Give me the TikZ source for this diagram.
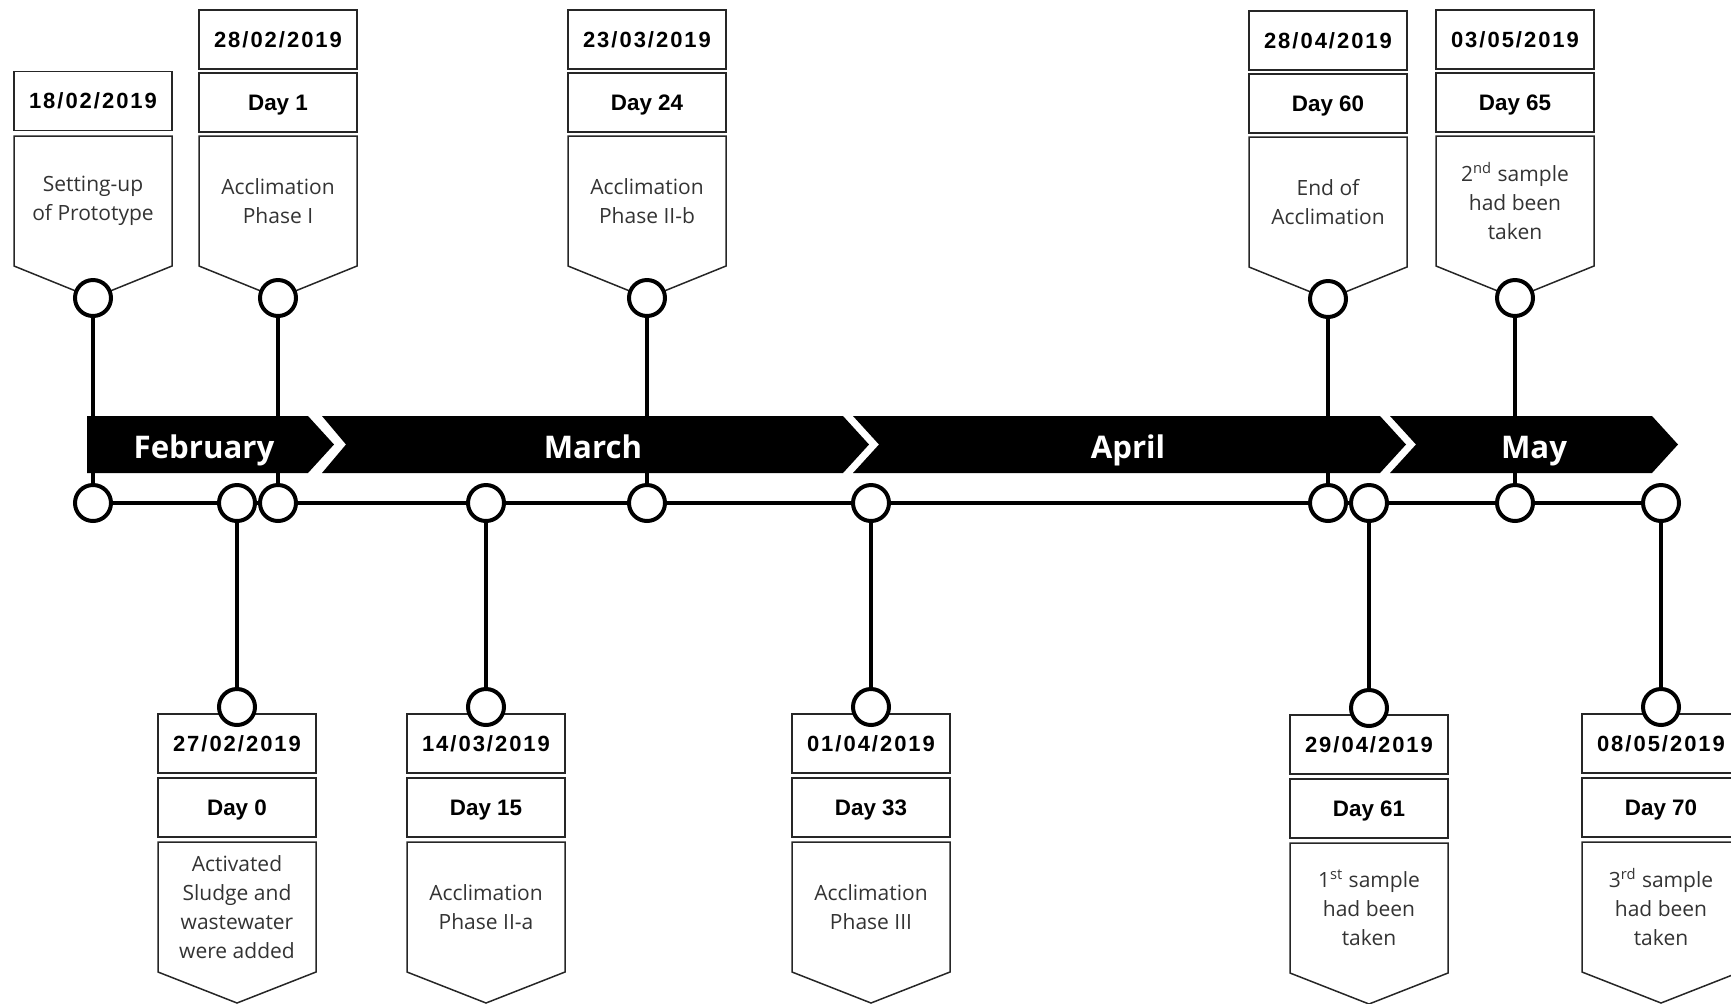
\documentclass[tikz,border=0pt]{standalone}
\usepackage{fontspec}
\setmainfont{Open Sans}
\newfontfamily\datefont[LetterSpace=9]{Liberation Sans}
\newfontfamily\dayfont{Liberation Sans}
\usepackage{tikz}

\begin{document}
\begin{tikzpicture}[x=0.5pt,y=-0.5pt,
  datebox/.style={draw=black!85,line width=0.75pt,minimum width=79pt,minimum height=29.5pt,inner sep=0pt,font=\datefont\bfseries\fontsize{11}{12}\selectfont},
  daybox/.style={draw=black!85,line width=0.75pt,minimum width=79pt,minimum height=29.5pt,inner sep=0pt,text height=8pt,text depth=0pt,font=\dayfont\bfseries\fontsize{11.2}{12}\selectfont},
  tag/.style={draw=black!85,line width=0.75pt},
  desc/.style={align=center,text=black!80,font=\fontsize{10.5}{14.5}\selectfont},
  dot/.style={circle,draw,line width=2pt,fill=white,minimum size=18pt,inner sep=0pt},
  stem/.style={line width=1.7pt},
  month/.style={text=white,anchor=base,font=\bfseries\fontsize{15.6}{18}\selectfont}]
  \useasboundingbox (0,0) rectangle (1731,1003);

  % events above the months
  \node[datebox] (date1) at (93,101) {18/02/2019};
  \draw[tag] (14,136) -- (172,136) -- (172,266) -- (93,298) -- (14,266) -- cycle;
  \node[desc] (text1) at (93,201) {Setting-up\\of Prototype};

  \node[datebox] (date2) at (278,39.5) {28/02/2019};
  \node[daybox] (day2) at (278,102.5) {Day 1};
  \draw[tag] (199,136) -- (357,136) -- (357,266) -- (278,298) -- (199,266) -- cycle;
  \node[desc] (text2) at (278,201) {Acclimation\\Phase I};

  \node[datebox] (date3) at (647,39.5) {23/03/2019};
  \node[daybox] (day3) at (647,102.5) {Day 24};
  \draw[tag] (568,136) -- (726,136) -- (726,266) -- (647,298) -- (568,266) -- cycle;
  \node[desc] (text3) at (647,201) {Acclimation\\Phase II-b};

  \node[datebox] (date4) at (1328,40.5) {28/04/2019};
  \node[daybox] (day4) at (1328,103.5) {Day 60};
  \draw[tag] (1249,137) -- (1407,137) -- (1407,267) -- (1328,299) -- (1249,267) -- cycle;
  \node[desc] (text4) at (1328,202) {End of\\Acclimation};

  \node[datebox] (date5) at (1515,39.5) {03/05/2019};
  \node[daybox] (day5) at (1515,102.5) {Day 65};
  \draw[tag] (1436,136) -- (1594,136) -- (1594,266) -- (1515,298) -- (1436,266) -- cycle;
  \node[desc] (text5) at (1515,201) {2\textsuperscript{nd} sample\\had been\\taken};

  % events below the months
  \node[datebox] (date6) at (237,743.5) {27/02/2019};
  \node[daybox] (day6) at (237,807.5) {Day 0};
  \draw[tag] (158,842) -- (316,842) -- (316,972) -- (237,1003) -- (158,972) -- cycle;
  \node[desc] (text6) at (237,907) {Activated\\Sludge and\\wastewater\\were added};

  \node[datebox] (date7) at (486,743.5) {14/03/2019};
  \node[daybox] (day7) at (486,807.5) {Day 15};
  \draw[tag] (407,842) -- (565,842) -- (565,972) -- (486,1003) -- (407,972) -- cycle;
  \node[desc] (text7) at (486,907) {Acclimation\\Phase II-a};

  \node[datebox] (date8) at (871,743.5) {01/04/2019};
  \node[daybox] (day8) at (871,807.5) {Day 33};
  \draw[tag] (792,842) -- (950,842) -- (950,972) -- (871,1003) -- (792,972) -- cycle;
  \node[desc] (text8) at (871,907) {Acclimation\\Phase III};

  \node[datebox] (date9) at (1369,744.5) {29/04/2019};
  \node[daybox] (day9) at (1369,808.5) {Day 61};
  \draw[tag] (1290,843) -- (1448,843) -- (1448,973) -- (1369,1004) -- (1290,973) -- cycle;
  \node[desc] (text9) at (1369,908) {1\textsuperscript{st} sample\\had been\\taken};

  \node[datebox] (date10) at (1661,743.5) {08/05/2019};
  \node[daybox] (day10) at (1661,807.5) {Day 70};
  \draw[tag] (1582,842) -- (1740,842) -- (1740,972) -- (1661,1003) -- (1582,972) -- cycle;
  \node[desc] (text10) at (1661,907) {3\textsuperscript{rd} sample\\had been\\taken};

  % circles
  \node[dot] (top1) at (93,298) {};
  \node[dot] (top2) at (278,298) {};
  \node[dot] (top3) at (647,298) {};
  \node[dot] (top4) at (1328,299) {};
  \node[dot] (top5) at (1515,298) {};

  \node[dot] (tl1) at (93,503) {};
  \node[dot] (tl2) at (237,503) {};
  \node[dot] (tl3) at (278,503) {};
  \node[dot] (tl4) at (486,503) {};
  \node[dot] (tl5) at (647,503) {};
  \node[dot] (tl6) at (871,503) {};
  \node[dot] (tl7) at (1328,503) {};
  \node[dot] (tl8) at (1369,503) {};
  \node[dot] (tl9) at (1515,503) {};
  \node[dot] (tl10) at (1661,503) {};

  \node[dot] (bot1) at (237,707) {};
  \node[dot] (bot2) at (486,707) {};
  \node[dot] (bot3) at (871,707) {};
  \node[dot] (bot4) at (1369,708) {};
  \node[dot] (bot5) at (1661,707) {};

  % stems and time line
  \draw[stem] (top1) -- (tl1);
  \draw[stem] (top2) -- (tl3);
  \draw[stem] (top3) -- (tl5);
  \draw[stem] (top4) -- (tl7);
  \draw[stem] (top5) -- (tl9);
  \draw[stem] (tl2) -- (bot1);
  \draw[stem] (tl4) -- (bot2);
  \draw[stem] (tl6) -- (bot3);
  \draw[stem] (tl8) -- (bot4);
  \draw[stem] (tl10) -- (bot5);
  \draw[stem] (tl1) -- (tl2) -- (tl3) -- (tl4) -- (tl5) -- (tl6) -- (tl7) -- (tl8) -- (tl9) -- (tl10);

  % month band
  \fill (87,416) -- (308,416) -- (334,444.5) -- (308,473) -- (87,473) -- cycle;
  \fill (322,416) -- (843,416) -- (869,444.5) -- (843,473) -- (322,473) -- (346,444.5) -- cycle;
  \fill (853,416) -- (1380,416) -- (1406,444.5) -- (1380,473) -- (853,473) -- (879,444.5) -- cycle;
  \fill (1390,416) -- (1652,416) -- (1678,444.5) -- (1652,473) -- (1390,473) -- (1416,444.5) -- cycle;
  \node[month] (feb) at (204,458) {February};
  \node[month] (mar) at (593,458) {March};
  \node[month] (apr) at (1128,458) {April};
  \node[month] (may) at (1534,458) {May};
\end{tikzpicture}
\end{document}
